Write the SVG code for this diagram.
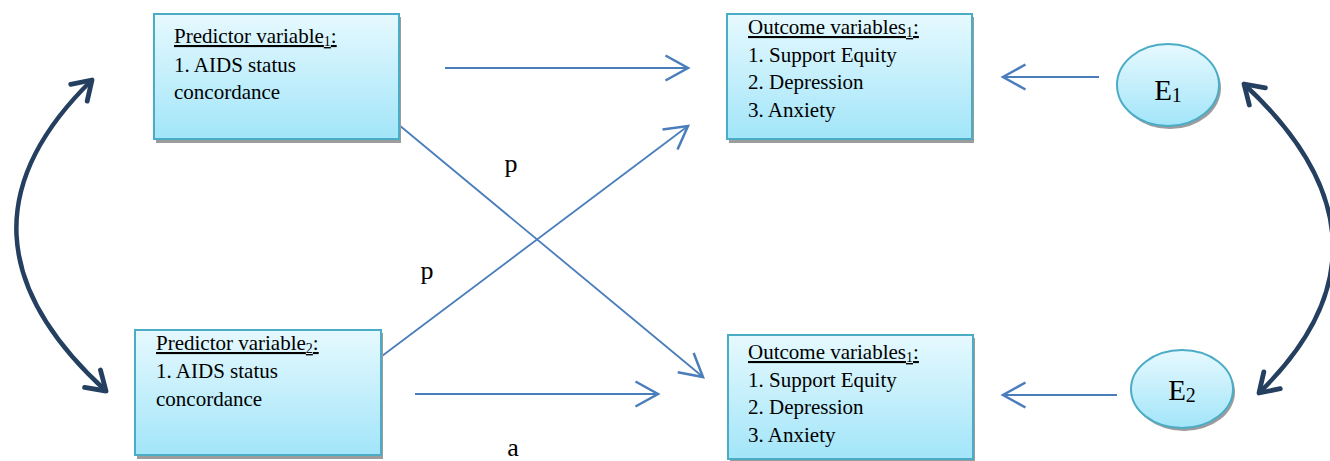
<svg xmlns="http://www.w3.org/2000/svg" width="1330" height="461" viewBox="0 0 1330 461">
<defs>
<linearGradient id="g" x1="0" y1="0" x2="0" y2="1">
<stop offset="0" stop-color="#e6f9fe"/>
<stop offset="1" stop-color="#a2e5f9"/>
</linearGradient>
<marker id="ab" markerUnits="userSpaceOnUse" markerWidth="30" markerHeight="30" viewBox="-20 -12 24 24" refX="0" refY="0" orient="auto" overflow="visible">
<path d="M-18,-10 L0,0 L-18,10" fill="none" stroke="#4a7ebb" stroke-width="2"/>
</marker>
<marker id="an" markerUnits="userSpaceOnUse" markerWidth="30" markerHeight="30" viewBox="-20 -14 24 28" refX="0" refY="0" orient="auto-start-reverse" overflow="visible">
<path d="M-17,-11 L0,0 L-17,11" fill="none" stroke="#243f60" stroke-width="4.5" stroke-linecap="round" stroke-linejoin="round"/>
</marker>
</defs>
<style>
.box{fill:url(#g);stroke:#4bacc6;stroke-width:2}
.sh{fill:#9c9c9c}
.t{font-family:"Liberation Serif","Times New Roman",serif;font-size:21px;fill:#000}
.u{text-decoration:underline}
.sub{font-size:14px}
.lbl{font-family:"Liberation Serif","Times New Roman",serif;font-size:26px;fill:#000}
.e{font-family:"Liberation Serif","Times New Roman",serif;font-size:29px;fill:#000}
.eb{font-size:20px}
.bl{fill:none;stroke:#4a7ebb;stroke-width:1.8;marker-end:url(#ab)}
.nv{fill:none;stroke:#243f60;stroke-width:4.5;marker-start:url(#an);marker-end:url(#an)}
</style>

<g id="connectors">
<line class="bl" x1="445" y1="68" x2="688" y2="68"/>
<line class="bl" x1="382" y1="356" x2="688" y2="126"/>
<line class="bl" x1="399" y1="125" x2="703" y2="377"/>
<line class="bl" x1="415" y1="394" x2="658" y2="394"/>
<line class="bl" x1="1099" y1="77" x2="1003" y2="77"/>
<line class="bl" x1="1117" y1="395" x2="1003" y2="395"/>
<path class="nv" d="M92,80 Q-66,234 106,391"/>
<path class="nv" d="M1244,84 Q1414,242 1259,393"/>
</g>

<g id="labels">
<text class="lbl" x="511" y="172" text-anchor="middle">p</text>
<text class="lbl" x="427" y="279" text-anchor="middle">p</text>
<text class="lbl" x="513" y="456" text-anchor="middle">a</text>
</g>

<g id="predictor1">
<rect class="sh" x="156" y="17" width="245" height="126"/>
<rect class="box" x="154" y="14" width="245" height="125"/>
<text class="t" x="174" y="43"><tspan class="u">Predictor variable<tspan class="sub" dy="3">1</tspan><tspan dy="-3">:</tspan></tspan></text>
<text class="t" x="174" y="72">1. AIDS status</text>
<text class="t" x="174" y="99">concordance</text>
</g>

<g id="predictor2">
<rect class="sh" x="137" y="333" width="246" height="126"/>
<rect class="box" x="135" y="330" width="246" height="125"/>
<text class="t" x="156" y="350"><tspan class="u">Predictor variable<tspan class="sub" dy="3">2</tspan><tspan dy="-3">:</tspan></tspan></text>
<text class="t" x="156" y="378">1. AIDS status</text>
<text class="t" x="156" y="406">concordance</text>
</g>

<g id="outcome1">
<rect class="sh" x="729" y="17" width="245" height="126"/>
<rect class="box" x="727" y="14" width="245" height="125"/>
<text class="t" x="748" y="34"><tspan class="u">Outcome variables<tspan class="sub" dy="3">1</tspan><tspan dy="-3">:</tspan></tspan></text>
<text class="t" x="748" y="62">1. Support Equity</text>
<text class="t" x="748" y="89">2. Depression</text>
<text class="t" x="748" y="117">3. Anxiety</text>
</g>

<g id="outcome2">
<rect class="sh" x="730" y="338" width="245" height="124"/>
<rect class="box" x="728" y="335" width="245" height="124"/>
<text class="t" x="748" y="359"><tspan class="u">Outcome variables<tspan class="sub" dy="3">1</tspan><tspan dy="-3">:</tspan></tspan></text>
<text class="t" x="748" y="387">1. Support Equity</text>
<text class="t" x="748" y="414">2. Depression</text>
<text class="t" x="748" y="442">3. Anxiety</text>
</g>

<g id="E1">
<ellipse class="sh" cx="1170" cy="88" rx="51" ry="41"/>
<ellipse class="box" cx="1168" cy="85" rx="51" ry="41"/>
<text class="e" x="1168" y="100" text-anchor="middle">E<tspan class="eb" dy="2">1</tspan></text>
</g>

<g id="E2">
<ellipse class="sh" cx="1184" cy="392" rx="51" ry="39"/>
<ellipse class="box" cx="1182" cy="389" rx="51" ry="39"/>
<text class="e" x="1182" y="400" text-anchor="middle">E<tspan class="eb" dy="2">2</tspan></text>
</g>
</svg>
